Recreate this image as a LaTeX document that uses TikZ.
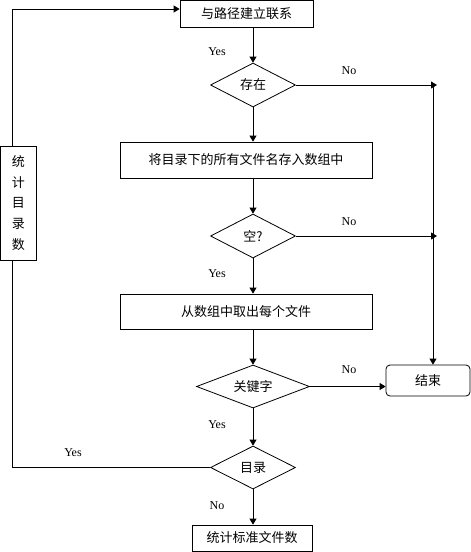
\documentclass[tikz,border=0pt]{standalone}
\usepackage{fontspec}
\setmainfont{Liberation Serif}
\newfontfamily\cjk{Noto Sans CJK SC}
\usetikzlibrary{positioning, arrows.meta, shapes.geometric}

\begin{document}
\begin{tikzpicture}[x=1pt, y=-1pt, line width=0.8pt,
    procbox/.style={draw, fill=white, inner sep=0pt,
                    font=\cjk\fontsize{13}{15}\selectfont},
    decision/.style={draw, diamond, aspect=2, inner sep=0pt,
                     minimum width=85pt, minimum height=44pt,
                     font=\cjk\fontsize{13}{15}\selectfont},
    flow/.style={-{Triangle[length=6pt, width=7pt]}},
    lbl/.style={font=\fontsize{12}{14}\selectfont}]
    \useasboundingbox (0, 0) rectangle (471, 552);

    \node[procbox, minimum width=133pt, minimum height=27pt] (link) at (246.5, 13.5) {与路径建立联系};
    \node[decision] (exist) at (253, 85) {存在};
    \node[procbox, minimum width=252pt, minimum height=36pt] (store) at (246, 160) {将目录下的所有文件名存入数组中};
    \node[decision] (empty) at (253, 236) {空?};
    \node[procbox, minimum width=252pt, minimum height=35pt] (fetch) at (246, 311.5) {从数组中取出每个文件};
    \node[decision, minimum width=113pt, minimum height=43pt] (key) at (253, 386.5) {关键字};
    \node[procbox, rounded corners=4pt, minimum width=84pt, minimum height=31pt] (stop) at (428, 380.5) {结束};
    \node[decision, minimum height=43pt] (isdir) at (253, 467.5) {目录};
    \node[procbox, minimum width=120pt, minimum height=26pt] (count) at (252, 538) {统计标准文件数};

    \coordinate (loop) at (12.5, 9);
    \coordinate (rjoin) at (433, 85);

    % main line
    \draw[flow] (exist.north |- link.south) -- (exist.north);
    \draw[flow] (exist.south) -- (exist.south |- store.north);
    \draw[flow] (empty.north |- store.south) -- (empty.north);
    \draw[flow] (empty.south) -- (empty.south |- fetch.north);
    \draw[flow] (key.north |- fetch.south) -- (key.north);
    \draw[flow] (key.south) -- (isdir.north);
    \draw[flow] (isdir.south) -- (isdir.south |- count.north);

    % exits to the end
    \draw[flow] (exist.east) -- ([xshift=4pt]rjoin);
    \draw[flow] (empty.east) -- ([xshift=4pt]rjoin |- empty.east);
    \draw[flow] (rjoin) -- (rjoin |- stop.north);
    \draw[flow] (key.east) -- (key.east -| stop.west);

    % loop back
    \draw[flow] (isdir.west) -| (loop) -- (loop -| link.west);
    \node[procbox, minimum width=36pt, minimum height=114pt, align=center,
          font=\cjk\fontsize{13}{20.7}\selectfont] (dirs) at (18.5, 203) {统\\计\\目\\录\\数};

    \node[lbl] (yes1) at (217, 52) {Yes};
    \node[lbl] (no1) at (349, 71) {No};
    \node[lbl] (no2) at (349, 222) {No};
    \node[lbl] (yes2) at (217, 274) {Yes};
    \node[lbl] (no3) at (349, 370) {No};
    \node[lbl] (yes3) at (217, 425) {Yes};
    \node[lbl] (yes4) at (73, 453) {Yes};
    \node[lbl] (no4) at (217, 506) {No};
\end{tikzpicture}
\end{document}
